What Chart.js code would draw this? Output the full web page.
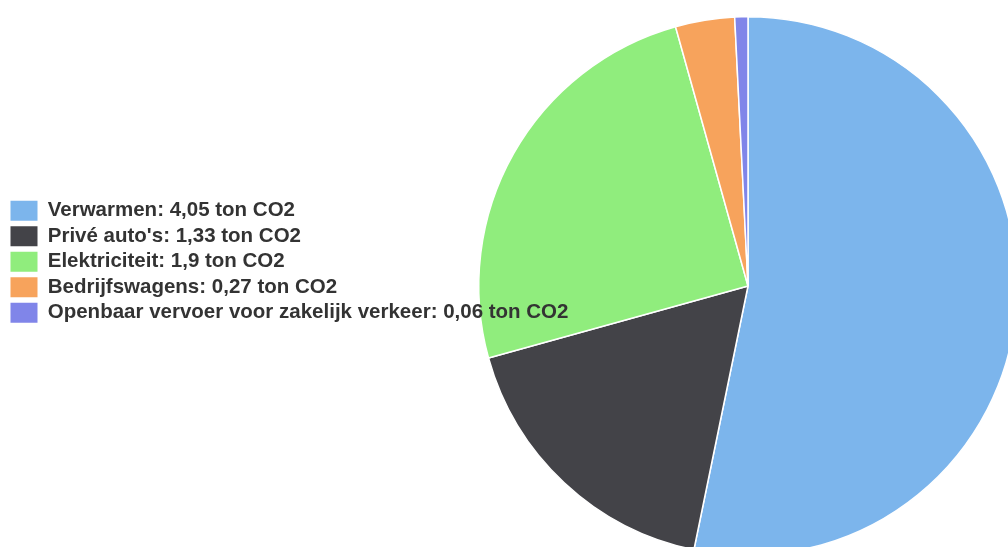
<!DOCTYPE html>
<html>
<head>
<meta charset="utf-8">
<script src="https://cdn.jsdelivr.net/npm/chart.js@4"></script>
<style>
  html, body { margin: 0; padding: 0; background: #fff; overflow: hidden; }
  canvas { display: block; }
</style>
</head>
<body>
<canvas id="co2Chart" width="1491" height="556"></canvas>
<script>
const categories = ['Verwarmen', "Privé auto's", 'Elektriciteit', 'Bedrijfswagens', 'Openbaar vervoer voor zakelijk verkeer'];
const emissions = [4.05, 1.33, 1.9, 0.27, 0.06];
const sliceColors = ['#7cb5ec', '#434348', '#90ed7d', '#f7a35c', '#8085e9'];

const legendLabels = categories.map(
  (name, i) => name + ': ' + String(emissions[i]).replace('.', ',') + ' ton CO2'
);

// draw the legend on top of the pie, like the original
const legendOnTop = {
  id: 'legendOnTop',
  afterInit(chart) {
    const legend = chart.legend;
    legend._layers = () => [{ z: 1, draw: area => legend.draw(area) }];
  },
};

const ctx = document.getElementById('co2Chart').getContext('2d');

new Chart(ctx, {
  type: 'pie',
  data: {
    labels: legendLabels,
    datasets: [
      {
        data: emissions,
        backgroundColor: sliceColors,
        borderColor: '#ffffff',
        borderWidth: 1.5,
      },
    ],
  },
  options: {
    responsive: false,
    animation: false,
    layout: {
      padding: { left: 5.5, right: 0.5, top: 16, bottom: 0 },
    },
    plugins: {
      tooltip: { enabled: false },
      legend: {
        position: 'chartArea',
        align: 'start',
        title: {
          display: true,
          text: '',
          font: { size: 10, lineHeight: 1 },
          padding: { top: 185.5, bottom: 0 },
        },
        labels: {
          boxWidth: 27,
          boxHeight: 20,
          padding: 5,
          color: '#333333',
          font: { family: '"Liberation Sans", Arial, sans-serif', size: 20.5, weight: 'bold' },
          generateLabels(chart) {
            const items = Chart.overrides.pie.plugins.legend.labels.generateLabels(chart);
            return items.map(item => ({ ...item, lineWidth: 0 })); // plain filled boxes
          },
        },
      },
    },
  },
  plugins: [legendOnTop],
});
</script>
</body>
</html>
